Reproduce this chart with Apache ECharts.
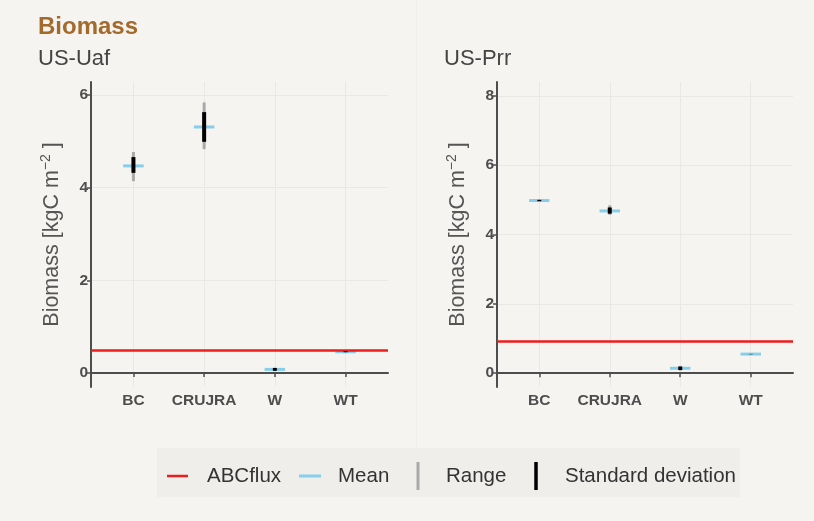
<!DOCTYPE html>
<html>
<head>
<meta charset="utf-8">
<script src="https://cdn.jsdelivr.net/npm/echarts@6/dist/echarts.min.js"></script>
<style>
html,body{margin:0;padding:0;background:#F6F4F1;}
#chart{width:814px;height:521px;}
</style>
</head>
<body>
<div id="chart"></div>
<script>
// ---- data ----
const categories = ['BC', 'CRUJRA', 'W', 'WT'];
const categoryPositions = [1, 2, 3, 4];

const uafMean      = [4.47, 5.31, 0.08, 0.46];
const uafRangeLow  = [4.14, 4.83, 0.04, 0.44];
const uafRangeHigh = [4.77, 5.84, 0.12, 0.47];
const uafSdLow     = [4.32, 4.99, 0.05, 0.45];
const uafSdHigh    = [4.66, 5.63, 0.11, 0.47];
const uafAbcflux   = 0.50;
const uafTicks     = [0, 2, 4, 6];

const prrMean      = [4.98, 4.68, 0.14, 0.55];
const prrRangeLow  = [4.95, 4.57, 0.07, 0.54];
const prrRangeHigh = [5.01, 4.84, 0.21, 0.56];
const prrSdLow     = [4.96, 4.60, 0.09, 0.545];
const prrSdHigh    = [5.00, 4.78, 0.19, 0.555];
const prrAbcflux   = 0.92;
const prrTicks     = [0, 2, 4, 6, 8];

// ---- styles ----
const FONT = 'Liberation Sans, Arial, sans-serif';
const C_RANGE = '#A9A9A9';
const C_SD = '#000000';
const C_MEAN = '#87CEEB';
const C_ABC = '#EE1C1C';
const C_AXIS = '#4D4D4D';
const C_GRID = '#EAE8E4';
const MEAN_HALF = 0.145;

function vSeg(color, width) {
  return function (params, api) {
    const x = api.value(0);
    const p1 = api.coord([x, api.value(1)]);
    const p2 = api.coord([x, api.value(2)]);
    return {
      type: 'line',
      shape: { x1: p1[0], y1: p1[1], x2: p2[0], y2: p2[1] },
      style: { stroke: color, lineWidth: width, lineCap: 'butt' }
    };
  };
}
function hSeg(params, api) {
  const x = api.value(0), y = api.value(1);
  const p1 = api.coord([x - MEAN_HALF, y]);
  const p2 = api.coord([x + MEAN_HALF, y]);
  return {
    type: 'line',
    shape: { x1: p1[0], y1: p1[1], x2: p2[0], y2: p2[1] },
    style: { stroke: C_MEAN, lineWidth: 3, lineCap: 'butt' }
  };
}

function pairs(lo, hi) { return categoryPositions.map((p, i) => [p, lo[i], hi[i]]); }
function means(m) { return categoryPositions.map((p, i) => [p, m[i]]); }

function panelSeries(idx, mean, rLo, rHi, sLo, sHi, abc) {
  return [
    { type: 'custom', xAxisIndex: idx, yAxisIndex: idx, renderItem: vSeg(C_RANGE, 3),
      data: pairs(rLo, rHi), encode: { x: 0, y: [1, 2] }, silent: true, z: 3 },
    { type: 'custom', xAxisIndex: idx, yAxisIndex: idx, renderItem: hSeg,
      data: means(mean), encode: { x: 0, y: 1 }, silent: true, z: 4 },
    { type: 'custom', xAxisIndex: idx, yAxisIndex: idx, renderItem: vSeg(C_SD, 4),
      data: pairs(sLo, sHi), encode: { x: 0, y: [1, 2] }, silent: true, z: 5,
      markLine: { silent: true, symbol: 'none', label: { show: false },
        lineStyle: { color: C_ABC, width: 2.5, type: 'solid' },
        data: [{ yAxis: abc }] } }
  ];
}

function xAxisDef(idx) {
  return {
    type: 'value', gridIndex: idx, min: 0.4, max: 4.6,
    axisLine: { show: true, lineStyle: { color: C_AXIS, width: 2 } },
    axisTick: { show: true, customValues: categoryPositions, length: 4, lineStyle: { color: C_AXIS, width: 1.5 } },
    axisLabel: { customValues: categoryPositions, formatter: v => categories[Math.round(v) - 1],
      fontFamily: FONT, fontWeight: 'bold', fontSize: 15.5, color: C_AXIS, margin: 6 },
    splitLine: { show: true, lineStyle: { color: C_GRID, width: 1 } }
  };
}
function yAxisDef(idx, min, max, ticks) {
  return {
    type: 'value', gridIndex: idx, min: min, max: max,
    name: '{a|Biomass [kgC m}{b|−2}{a| ]}',
    nameLocation: 'middle', nameGap: 26, nameRotate: 90,
    nameTextStyle: {
      color: '#555555', fontFamily: FONT,
      rich: {
        a: { fontSize: 21.5, fontFamily: FONT, color: '#555555' },
        b: { fontSize: 14, fontFamily: FONT, color: '#555555', padding: [0, 0, 12, 0] }
      }
    },
    axisLine: { show: true, onZero: false, lineStyle: { color: C_AXIS, width: 2 } },
    axisTick: { show: true, customValues: ticks, length: 4, lineStyle: { color: C_AXIS, width: 1.5 } },
    axisLabel: { customValues: ticks, fontFamily: FONT, fontWeight: 'bold', fontSize: 15.5, color: C_AXIS, margin: 3 },
    splitLine: { show: true, lineStyle: { color: C_GRID, width: 1 } }
  };
}

const chart = echarts.init(document.getElementById('chart'));
const option = {
  backgroundColor: '#F6F4F1',
  animation: false,
  grid: [
    { left: 91, right: 426, top: 82, bottom: 134 },
    { left: 497, right: 21, top: 82, bottom: 134 }
  ],
  xAxis: [xAxisDef(0), xAxisDef(1)],
  yAxis: [yAxisDef(0, -0.30, 6.28, uafTicks), yAxisDef(1, -0.40, 8.40, prrTicks)],
  series: [
    ...panelSeries(0, uafMean, uafRangeLow, uafRangeHigh, uafSdLow, uafSdHigh, uafAbcflux),
    ...panelSeries(1, prrMean, prrRangeLow, prrRangeHigh, prrSdLow, prrSdHigh, prrAbcflux)
  ],
  graphic: [
    { type: 'line', shape: { x1: 416.5, y1: 0, x2: 416.5, y2: 447 }, style: { stroke: '#EFEDE9', lineWidth: 1 }, silent: true, z: -1 },
    { type: 'text', left: 38, top: 15, style: { text: 'Biomass', font: 'bold 24px ' + FONT, fill: '#A36A2C' } },
    { type: 'text', left: 38, top: 48, style: { text: 'US-Uaf', font: '22px ' + FONT, fill: '#444444' } },
    { type: 'text', left: 444, top: 48, style: { text: 'US-Prr', font: '22px ' + FONT, fill: '#444444' } },
    // legend
    { type: 'rect', shape: { x: 157, y: 448, width: 583, height: 49 }, style: { fill: '#F0EEEB' }, silent: true },
    { type: 'line', shape: { x1: 167, y1: 476, x2: 188, y2: 476 }, style: { stroke: C_ABC, lineWidth: 2.5 } },
    { type: 'text', x: 207, y: 476, style: { text: 'ABCflux', font: '20.5px ' + FONT, fill: '#333333', verticalAlign: 'middle' } },
    { type: 'line', shape: { x1: 299, y1: 476, x2: 321, y2: 476 }, style: { stroke: C_MEAN, lineWidth: 3 } },
    { type: 'text', x: 338, y: 476, style: { text: 'Mean', font: '20.5px ' + FONT, fill: '#333333', verticalAlign: 'middle' } },
    { type: 'line', shape: { x1: 418, y1: 462, x2: 418, y2: 490 }, style: { stroke: C_RANGE, lineWidth: 3 } },
    { type: 'text', x: 446, y: 476, style: { text: 'Range', font: '20.5px ' + FONT, fill: '#333333', verticalAlign: 'middle' } },
    { type: 'line', shape: { x1: 536, y1: 462, x2: 536, y2: 490 }, style: { stroke: C_SD, lineWidth: 3.5 } },
    { type: 'text', x: 565, y: 476, style: { text: 'Standard deviation', font: '20.5px ' + FONT, fill: '#333333', verticalAlign: 'middle' } }
  ]
};
chart.setOption(option);
</script>
</body>
</html>
